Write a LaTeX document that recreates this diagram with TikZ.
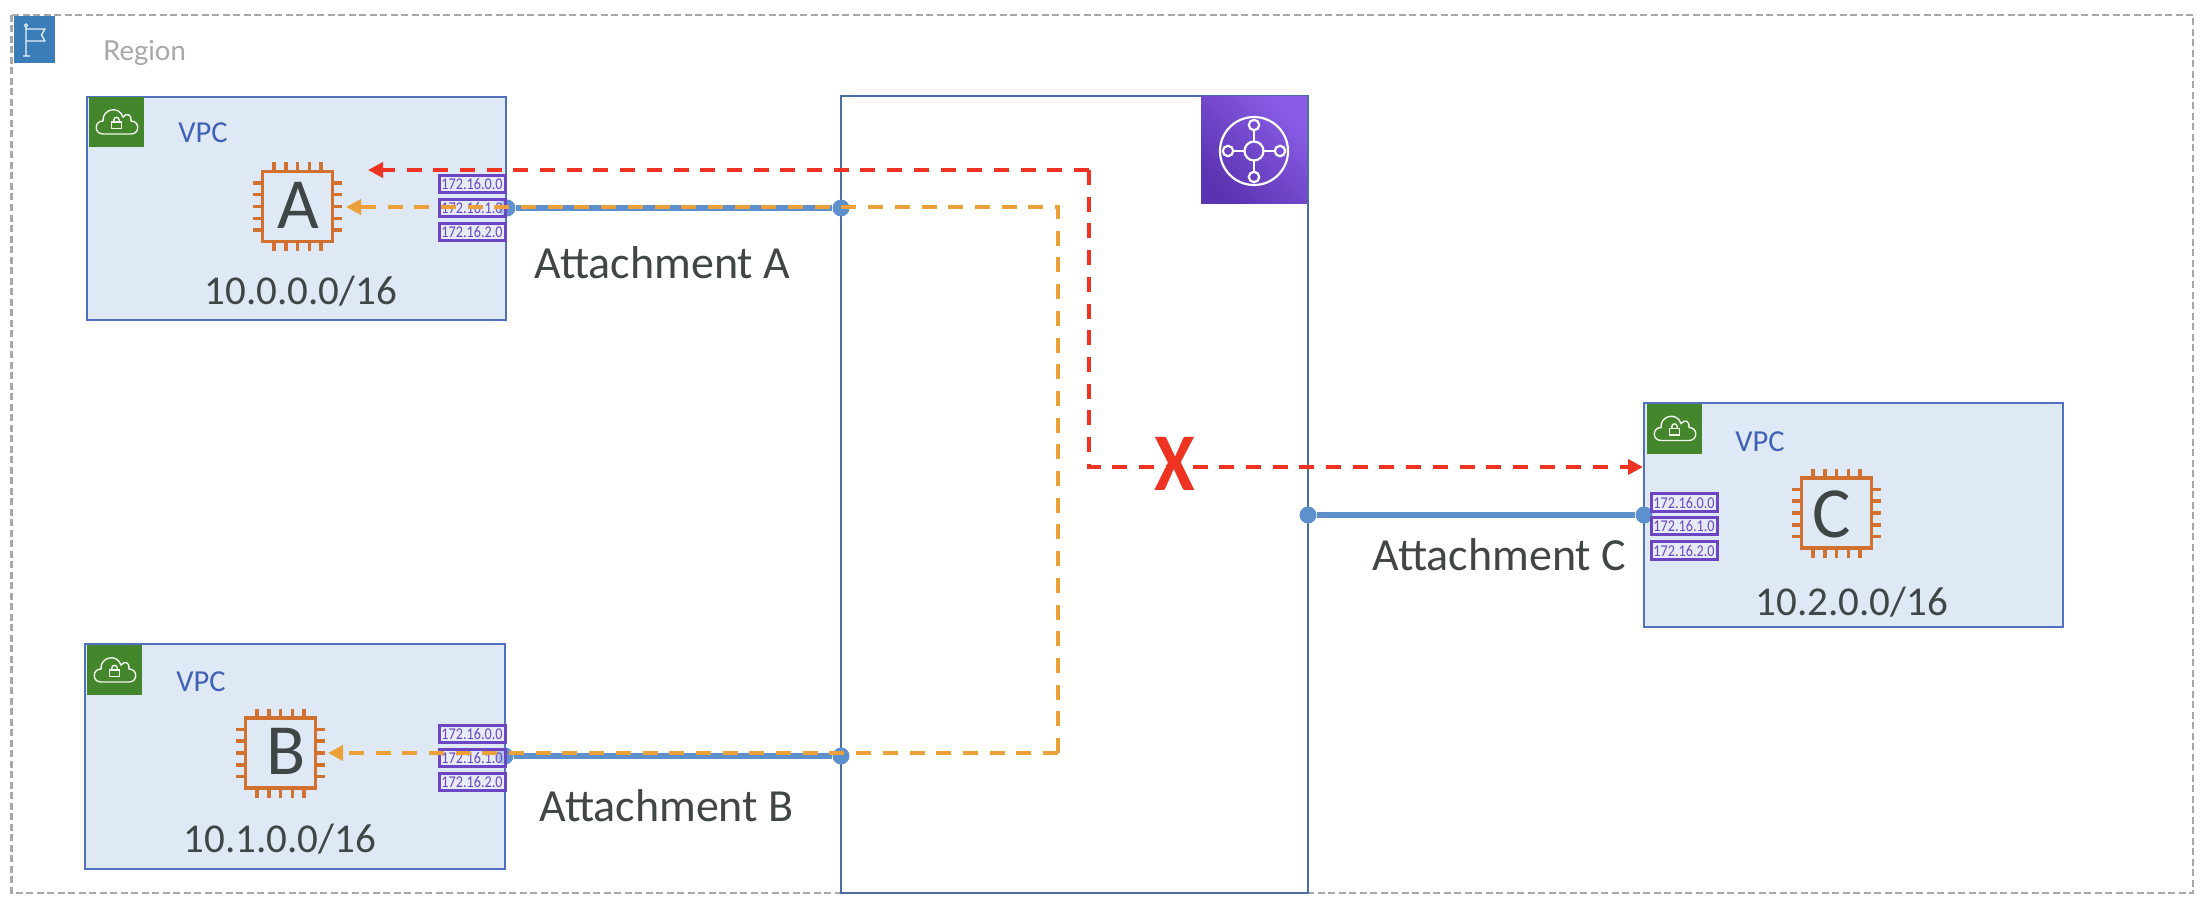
\documentclass[tikz,border=0pt]{standalone}
\usepackage{fontspec}
\usepackage{graphicx}
\setmainfont{Carlito}
\newfontfamily\regionfont{Lato}
\usetikzlibrary{arrows.meta}
\definecolor{regiongrey}{HTML}{A8A8A8}
\definecolor{flagblue}{HTML}{3A7DB8}
\definecolor{vpcfill}{HTML}{DFE8F5}
\definecolor{vpcline}{HTML}{4F71BE}
\definecolor{vpctext}{HTML}{3F62B4}
\definecolor{greenicon}{HTML}{43862B}
\definecolor{chipline}{HTML}{D2702F}
\definecolor{ink}{HTML}{404546}
\definecolor{lblline}{HTML}{6C45C4}
\definecolor{tgwline}{HTML}{4A6FA5}
\definecolor{attach}{HTML}{5F90CE}
\definecolor{redline}{HTML}{EF3323}
\definecolor{orangeline}{HTML}{ECA03A}
\definecolor{purplelo}{HTML}{5A33B0}
\definecolor{purplehi}{HTML}{8A5CE6}
\tikzset{
  regionbox/.style={draw=regiongrey,line width=2.4pt,dash pattern=on 7pt off 3.5pt},
  flagbox/.style={fill=flagblue,draw=none},
  vpcbox/.style={fill=vpcfill,draw=vpcline,line width=2.6pt},
  greenbox/.style={fill=greenicon,draw=none},
  iconline/.style={draw=white!92!greenicon,line width=1.4pt},
  chipstroke/.style={draw=chipline,line width=3.6pt},
  vpclabel/.style={anchor=base,inner sep=0pt,text=vpctext,font=\fontsize{30.5pt}{30.5pt}\selectfont},
  chipletter/.style={anchor=base,inner sep=0pt,text=ink,font=\fontsize{72pt}{72pt}\selectfont},
  cidr/.style={anchor=base,inner sep=0pt,text=ink,font=\fontsize{41pt}{41pt}\selectfont},
  attachlabel/.style={anchor=base,inner sep=0pt,text=ink,font=\fontsize{46pt}{46pt}\selectfont},
  routebox/.style={draw=lblline,line width=3pt,fill=vpcfill!60!white,fill opacity=.55,text opacity=1,text=lblline,
    inner sep=0pt,minimum width=66pt,minimum height=17.5pt,font=\fontsize{16.5pt}{16.5pt}\selectfont},
  tgwbox/.style={draw=tgwline,line width=2.8pt},
  attachline/.style={draw=attach,line width=6pt},
  attachdot/.style={circle,fill=attach,draw=none,inner sep=0pt,minimum size=17pt},
  redpath/.style={draw=redline,line width=4pt,dash pattern=on 15pt off 11.7pt,-{Triangle[length=15pt,width=15pt]}},
  orangepath/.style={draw=orangeline,line width=4pt,dash pattern=on 15pt off 11.7pt,-{Triangle[length=15pt,width=15pt]}},
}
\newcommand{\routeip}[1]{\scalebox{.86}[1]{#1}}
% chip icon centred on the given point
\newcommand{\chipicon}[2]{%
  \begin{scope}[shift={(#1,#2)}]
    \draw[chipstroke] (-35,-35) rectangle (35,35);
    \foreach \k in {-2,-1,0,1,2}{
      \draw[chipstroke] (\k*11.8,-35) -- (\k*11.8,-44.5);
      \draw[chipstroke] (\k*11.8,35) -- (\k*11.8,44.5);
      \draw[chipstroke] (-35,\k*11.8) -- (-44.5,\k*11.8);
      \draw[chipstroke] (35,\k*11.8) -- (44.5,\k*11.8);
    }
  \end{scope}}
% green VPC badge with its top-left corner on the given point
\newcommand{\vpcbadge}[2]{%
  \begin{scope}[shift={(#1,#2)}]
    \fill[greenbox] (0,0) rectangle (55,50);
    \draw[iconline,rounded corners=0pt]
      (14,37) .. controls (5,37) and (5,24) .. (14,24)
      .. controls (13,12) and (30,8) .. (34,20)
      .. controls (38,15) and (43,18) .. (42,24)
      .. controls (51,24) and (51,37) .. (42,37) -- cycle;
    \draw[iconline] (22.5,25) rectangle (32.5,31.5);
    \draw[iconline] (24.8,25) -- (24.8,23) .. controls (24.8,19.5) and (30.2,19.5) .. (30.2,23) -- (30.2,25);
  \end{scope}}
\begin{document}
\begin{tikzpicture}[x=1pt,y=-1pt]
\useasboundingbox (0,0) rectangle (2210,904);
\fill[white] (0,0) rectangle (2210,904);
% region
\draw[regionbox] (11.5,15) rectangle (2193,893);
\fill[flagbox] (14,16) rectangle (55,63);
\draw[white!90!flagblue,line width=1.3pt,line join=round] (26,27) -- (26,56) (23,56) -- (30,56)
  (26,29) -- (45,29) -- (41.5,35) -- (45,41) -- (26,41);
\draw[white!90!flagblue,line width=1pt] (26,25.5) circle (1.6);
\node[anchor=base west,inner sep=0pt,text=regiongrey,font=\regionfont\fontsize{27.5pt}{27.5pt}\selectfont] (regionlabel) at (103,61) {Region};
% VPC boxes
\draw[vpcbox] (87,97) rectangle (506,320);
\draw[vpcbox] (85,644) rectangle (505,869);
\draw[vpcbox] (1644,403) rectangle (2063,627);
\vpcbadge{89}{97}
\vpcbadge{87}{645}
\vpcbadge{1647}{403.5}
\node[vpclabel] (vpca) at (203,143) {VPC};
\node[vpclabel] (vpcb) at (201,691) {VPC};
\node[vpclabel] (vpcc) at (1760,451) {VPC};
\chipicon{297.5}{206.5}
\chipicon{280.5}{753}
\chipicon{1836.5}{513}
\node[chipletter] (chipa) at (298,228) {A};
\node[chipletter] (chipb) at (286,774) {B};
\node[chipletter] (chipc) at (1832,537) {C};
\node[cidr] (cidra) at (301,304) {10.0.0.0/16};
\node[cidr] (cidrb) at (280,852) {10.1.0.0/16};
\node[cidr] (cidrc) at (1852,615) {10.2.0.0/16};
% transit gateway
\draw[tgwbox] (841,96) rectangle (1308,893);
\shade[left color=purplelo,right color=purplehi,shading angle=135,draw=none] (1201,97) rectangle (1307,204);
\begin{scope}[white,line width=2.2pt]
  \draw (1254,151) circle (34);
  \draw (1254,151) circle (9.5);
  \draw (1254,125) circle (5.2);
  \draw (1254,177) circle (5.2);
  \draw (1228,151) circle (5.2);
  \draw (1280,151) circle (5.2);
  \draw (1254,130.2) -- (1254,141.5) (1254,160.5) -- (1254,171.8);
  \draw (1233.2,151) -- (1244.5,151) (1263.5,151) -- (1274.8,151);
\end{scope}
% attachments
\node[attachdot] (dota1) at (507,208) {};
\node[attachdot] (dota2) at (841,208) {};
\node[attachdot] (dotb1) at (505,756) {};
\node[attachdot] (dotb2) at (841,756) {};
\node[attachdot] (dotc1) at (1308,515) {};
\node[attachdot] (dotc2) at (1644,515) {};
\draw[attachline] (dota1) -- (dota2);
\draw[attachline] (dotb1) -- (dotb2);
\draw[attachline] (dotc1) -- (dotc2);
\node[attachlabel] (atta) at (662.5,278) {Attachment A};
\node[attachlabel] (attb) at (666.5,821) {Attachment B};
\node[attachlabel] (attc) at (1499.5,570) {Attachment C};
% route tables
\node[routebox] (ra0) at (472,184) {\routeip{172.16.0.0}};
\node[routebox] (ra1) at (472,208) {\routeip{172.16.1.0}};
\node[routebox] (ra2) at (472,232) {\routeip{172.16.2.0}};
\node[routebox] (rb0) at (472,734) {\routeip{172.16.0.0}};
\node[routebox] (rb1) at (472,758) {\routeip{172.16.1.0}};
\node[routebox] (rb2) at (472,782) {\routeip{172.16.2.0}};
\node[routebox] (rc0) at (1684,502.5) {\routeip{172.16.0.0}};
\node[routebox] (rc1) at (1684,526) {\routeip{172.16.1.0}};
\node[routebox] (rc2) at (1684,550.5) {\routeip{172.16.2.0}};
% traffic paths
\coordinate (oa) at (1058,207);
\coordinate (ob) at (1058,753);
\coordinate (oatip) at (346,207);
\coordinate (obtip) at (328,753);
\coordinate (rtop) at (1089,170);
\coordinate (rbot) at (1089,467);
\coordinate (ratip) at (368,170);
\coordinate (rctip) at (1643,467);
\draw[orangepath] (ob) -- (obtip);
\draw[orangepath] (ob) -- (oa) -- (oatip);
\draw[redpath] (rtop) -- (ratip);
\draw[redpath] (rtop) -- (rbot) -- (rctip);
\node[anchor=base,inner sep=0pt,text=redline,font=\bfseries\fontsize{82pt}{82pt}\selectfont] (blocked) at (1175,490) {\scalebox{.9}[1]{X}};
\end{tikzpicture}
\end{document}
